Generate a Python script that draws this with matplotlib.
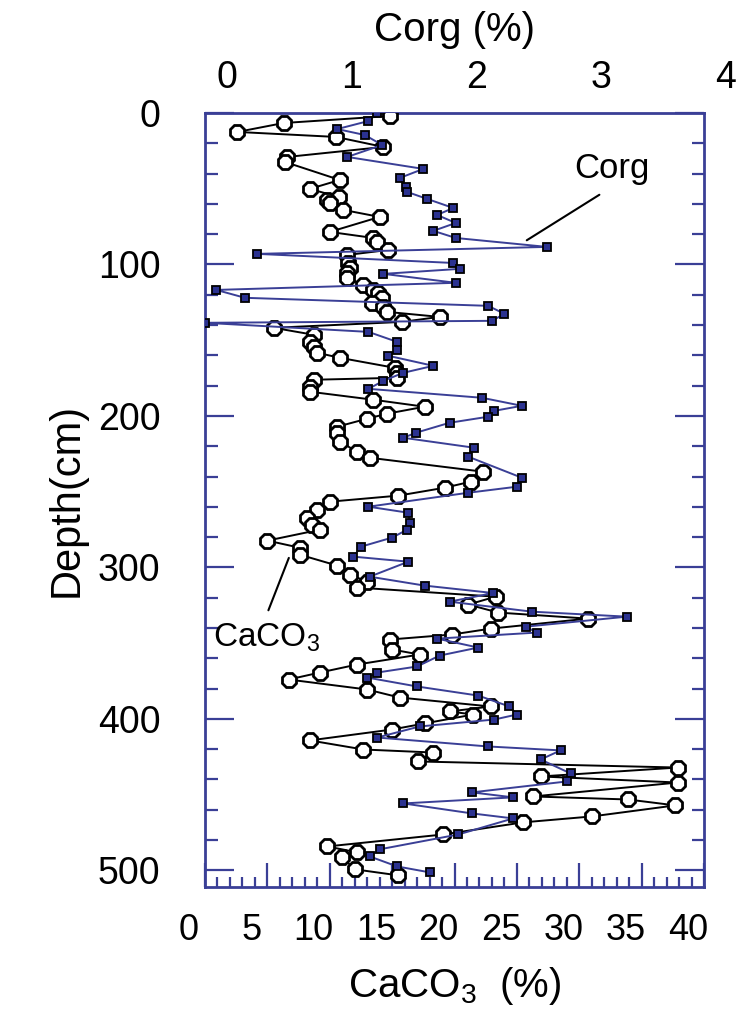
import matplotlib
matplotlib.use('Agg')
import matplotlib.pyplot as plt
import matplotlib.transforms as mtransforms
from matplotlib.ticker import MultipleLocator

plt.rcParams['font.family'] = ['Liberation Sans', 'DejaVu Sans']
plt.rcParams['mathtext.default'] = 'regular'

# CaCO3 profile
depth_caco3 = [2, 6.6, 12.5, 15.8, 22.4, 29.0, 32.3, 44.2, 50.1, 55.4, 57.4, 59.4, 64.0, 68.6,
               78.5, 82.5, 85.1, 90.4, 93.7, 99.0, 102.2, 105.5, 108.8, 113.5, 116.8, 118.7,
               122.0, 125.3, 128.0, 131.3, 134.6, 137.9, 141.8, 146.4, 151.1, 154.4, 158.3,
               161.6, 168.2, 171.5, 174.8, 176.1, 180.7, 184.0, 189.3, 193.9, 198.5, 201.8,
               207.1, 211.1, 217.0, 223.6, 227.6, 236.8, 243.4, 247.4, 252.6, 256.6, 261.9,
               267.2, 271.8, 275.1, 282.3, 287.0, 291.6, 298.8, 304.7, 309.4, 313.3, 319.3,
               324.5, 329.8, 333.8, 340.4, 344.3, 347.6, 354.2, 357.5, 364.1, 369.4, 374.0,
               380.6, 385.9, 391.8, 395.1, 397.1, 403.0, 407.0, 414.2, 420.2, 422.2, 428.1,
               432.1, 438.0, 442.0, 451.2, 453.2, 457.1, 464.4, 468.3, 476.3, 484.2, 488.1,
               491.4, 499.3, 503.3]
caco3 = [14.8, 6.3, 2.6, 10.5, 14.3, 6.6, 6.4, 10.8, 8.4, 10.7, 9.8, 10.0, 11.1, 14.0,
         10.0, 13.5, 13.8, 14.7, 11.4, 11.5, 11.6, 11.4, 11.4, 12.7, 13.5, 13.9,
         14.2, 13.4, 14.3, 14.6, 18.8, 15.8, 5.5, 8.7, 8.4, 8.7, 9.0,
         10.8, 15.2, 15.4, 15.4, 8.7, 8.4, 8.4, 13.5, 17.6, 14.6, 13.0,
         10.6, 10.6, 10.8, 12.2, 13.2, 22.3, 21.3, 19.2, 15.5, 10.0, 9.0,
         8.2, 8.6, 9.2, 5.0, 7.6, 7.6, 10.6, 11.6, 13.0, 12.2, 23.3,
         21.1, 23.5, 30.7, 22.9, 19.8, 14.8, 15.0, 17.2, 12.2, 9.2, 6.7,
         13.0, 15.6, 22.9, 19.6, 21.5, 17.6, 15.0, 8.4, 12.7, 18.3, 17.1,
         37.9, 26.9, 37.9, 26.3, 33.9, 37.7, 31.0, 25.5, 19.1, 9.8, 12.2,
         11.0, 12.0, 15.5]

# Corg profile
depth_corg = [0.0, 5.3, 10.6, 14.5, 21.1, 29.0, 36.9, 42.9, 48.8, 52.1, 56.7, 62.7, 67.3,
              72.6, 77.8, 82.5, 88.4, 93.0, 99.0, 102.9, 106.2, 112.1, 116.8, 122.0, 127.3,
              132.6, 137.2, 138.5, 144.5, 151.1, 156.3, 160.3, 166.9, 171.5, 176.8, 182.1,
              188.0, 193.3, 196.6, 200.5, 204.5, 211.1, 214.4, 221.0, 226.9, 240.8, 246.7,
              250.7, 259.9, 263.9, 270.4, 275.1, 280.3, 286.3, 292.9, 296.2, 306.1, 312.0,
              316.9, 322.6, 329.2, 332.5, 339.1, 343.0, 347.0, 352.9, 358.2, 365.4, 369.4,
              372.7, 378.6, 384.6, 391.8, 397.1, 400.4, 405.0, 412.3, 418.2, 420.8, 426.8,
              436.0, 441.3, 448.5, 451.8, 455.8, 462.4, 465.7, 476.3, 486.1, 490.8, 497.4,
              501.3]
corg = [1.38, 1.31, 1.06, 1.28, 1.42, 1.14, 1.75, 1.56, 1.61, 1.62, 1.78, 1.99, 1.86,
        2.01, 1.83, 2.01, 2.74, 0.42, 1.99, 2.04, 1.43, 2.01, 0.09, 0.32, 2.27,
        2.40, 2.30, 0.0, 1.31, 1.54, 1.54, 1.47, 1.83, 1.59, 1.43, 1.31,
        2.22, 2.54, 2.32, 2.27, 1.96, 1.69, 1.59, 2.16, 2.11, 2.54, 2.50,
        2.11, 1.31, 1.63, 1.64, 1.62, 1.50, 1.25, 1.19, 1.63, 1.32, 1.76,
        2.31, 1.96, 2.62, 3.38, 2.57, 2.66, 1.86, 2.19, 1.88, 1.70, 1.38,
        1.30, 1.70, 2.19, 2.44, 2.50, 2.32, 1.72, 1.38, 2.27, 2.85, 2.69,
        2.93, 2.90, 2.14, 2.47, 1.59, 2.14, 2.47, 2.03, 1.40, 1.32, 1.54,
        1.80]

caco3_ticks = [0, 5, 10, 15, 20, 25, 30, 35, 40]
corg_ticks = [0, 1, 2, 3, 4]
depth_ticks = [0, 100, 200, 300, 400, 500]

blue = '#3a3f96'

fig = plt.figure(figsize=(7.38, 10.19), dpi=100)
ax = fig.add_axes([0.2778, 0.1295, 0.6762, 0.7596])

ax.plot(caco3, depth_caco3, color='black', lw=1.4, marker='8', ms=11,
        mfc='white', mec='black', mew=2.0, zorder=3)

ax.set_xlim(0, 40)
ax.set_ylim(511, 0)

for side in ['left', 'right', 'top', 'bottom']:
    ax.spines[side].set_color(blue)
    ax.spines[side].set_linewidth(2)

ax.xaxis.set_major_locator(MultipleLocator(5))
ax.xaxis.set_minor_locator(MultipleLocator(1))
ax.set_xticks(caco3_ticks)
ax.set_xticklabels([str(t) for t in caco3_ticks])
ax.set_yticks(depth_ticks)
ax.set_yticklabels([str(t) for t in depth_ticks])
ax.yaxis.set_minor_locator(MultipleLocator(20))

ax.tick_params(axis='x', which='both', direction='in', top=True, bottom=True,
               color=blue, width=1.6, labelsize=26, pad=19)
ax.tick_params(axis='x', which='major', length=17)
ax.tick_params(axis='x', which='minor', length=7)
ax.tick_params(axis='y', which='both', direction='in', left=True, right=True,
               color=blue, width=1.6, labelsize=27, pad=32)
ax.tick_params(axis='y', which='major', length=21)
ax.tick_params(axis='y', which='minor', length=9)

# bottom labels sit a little left of their ticks in the original
shift_left = mtransforms.ScaledTranslation(-16 / 100, 0, fig.dpi_scale_trans)
for lab in ax.get_xticklabels():
    lab.set_transform(lab.get_transform() + shift_left)

ax.set_xlabel('CaCO$_3$  (%)', fontsize=29, labelpad=12)
ax.set_ylabel('Depth(cm)', fontsize=30, labelpad=8)

# Corg on a top axis
ax2 = ax.twiny()
ax2.plot(corg, depth_corg, color=blue, lw=1.4, marker='s', ms=5.8,
         mfc='#2b3290', mec='black', mew=1.3, zorder=4)
ax2.set_xlim(0, 4)
ax2.set_ylim(511, 0)
ax2.set_xticks(corg_ticks)
ax2.set_xticklabels([str(t) for t in corg_ticks])
ax2.tick_params(axis='x', which='both', length=0, labelsize=27, pad=12)
for side in ['left', 'right', 'top', 'bottom']:
    ax2.spines[side].set_visible(False)
shift_right = mtransforms.ScaledTranslation(22 / 100, 0, fig.dpi_scale_trans)
for lab in ax2.get_xticklabels():
    lab.set_transform(lab.get_transform() + shift_right)
ax2.set_xlabel('Corg (%)', fontsize=29, labelpad=14)

# labels with leader lines
ax.text(32.6, 36.5, 'Corg', fontsize=25, ha='center', va='center')
ax.annotate('', xy=(25.6, 85), xytext=(31.8, 53),
            arrowprops=dict(arrowstyle='-', color='black', lw=1.5))
ax.text(0.6, 352, 'CaCO$_3$', fontsize=24, ha='left', va='baseline')
ax.annotate('', xy=(6.8, 292), xytext=(5.0, 330),
            arrowprops=dict(arrowstyle='-', color='black', lw=1.5))

fig.savefig('out.png', dpi=100)
